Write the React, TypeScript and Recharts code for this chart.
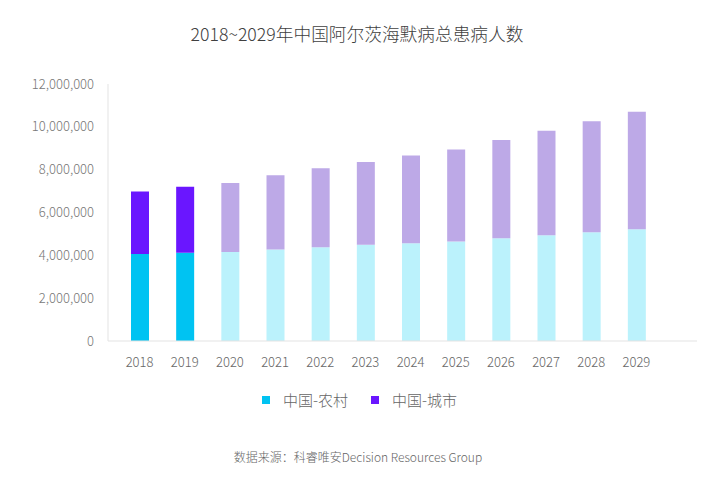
import { BarChart, Bar, XAxis, YAxis, Cell } from 'recharts';

const years = ['2018', '2019', '2020', '2021', '2022', '2023', '2024', '2025', '2026', '2027', '2028', '2029'];
const rural = [4060000, 4120000, 4150000, 4270000, 4380000, 4490000, 4570000, 4650000, 4800000, 4940000, 5080000, 5220000];
const urban = [2920000, 3080000, 3230000, 3470000, 3690000, 3870000, 4090000, 4290000, 4590000, 4880000, 5180000, 5480000];
const actualYears = ['2018', '2019'];
const yTicks = [0, 2000000, 4000000, 6000000, 8000000, 10000000, 12000000];
const seriesNames = ['中国-农村', '中国-城市'];

const data = years.map((year, i) => ({ year, rural: rural[i], urban: urban[i] }));

const FONT = '"Noto Sans CJK SC", "Noto Sans", sans-serif';
const ruralColor = '#00C3F2';
const ruralForecast = '#BBF2FC';
const urbanColor = '#6A16FF';
const urbanForecast = '#BDA9E7';

export default function App() {
  const isActual = (y: string) => actualYears.includes(y);

  return (
    <div
      style={{
        position: 'absolute',
        left: 0,
        top: 0,
        width: 701,
        height: 481,
        background: '#fff',
        fontFamily: FONT,
        fontWeight: 300,
      }}
    >
      <div
        style={{
          position: 'absolute',
          top: 20,
          left: 0,
          width: 714,
          textAlign: 'center',
          fontSize: 17.7,
          color: '#404040',
        }}
      >
        2018~2029年中国阿尔茨海默病总患病人数
      </div>
      <BarChart
        width={701}
        height={481}
        data={data}
        margin={{ top: 84, right: 4, left: 0, bottom: 110 }}
        style={{ position: 'absolute', left: 0, top: 0 }}
      >
        <XAxis
          dataKey="year"
          height={30}
          tickLine={false}
          tickSize={0}
          tickMargin={17}
          axisLine={{ stroke: '#e3e3e3' }}
          tick={{ fill: '#666', fontSize: 13, fontFamily: FONT }}
          padding={{ left: 9, right: 38 }}
        />
        <YAxis
          width={108}
          domain={[0, 12000000]}
          ticks={yTicks}
          tickLine={false}
          tickSize={0}
          tickMargin={14}
          axisLine={{ stroke: '#e3e3e3' }}
          tick={{ fill: '#777', fontSize: 13, fontFamily: FONT }}
          tickFormatter={(v: number) => v.toLocaleString('en-US')}
        />
        <Bar dataKey="rural" name={seriesNames[0]} stackId="a" fill={ruralColor} barSize={18} isAnimationActive={false}>
          {data.map((d) => (
            <Cell key={d.year} fill={isActual(d.year) ? ruralColor : ruralForecast} />
          ))}
        </Bar>
        <Bar dataKey="urban" name={seriesNames[1]} stackId="a" fill={urbanColor} barSize={18} isAnimationActive={false}>
          {data.map((d) => (
            <Cell key={d.year} fill={isActual(d.year) ? urbanColor : urbanForecast} />
          ))}
        </Bar>
      </BarChart>
      <div
        style={{
          position: 'absolute',
          top: 389,
          left: 262,
          display: 'flex',
          alignItems: 'center',
          fontSize: 15,
          color: '#666',
        }}
      >
        {seriesNames.map((name, i) => (
          <div key={name} style={{ display: 'flex', alignItems: 'center', marginRight: 23 }}>
            <span
              style={{
                display: 'inline-block',
                width: 8,
                height: 8,
                background: i === 0 ? ruralColor : urbanColor,
                marginRight: 13,
              }}
            />
            <span>{name}</span>
          </div>
        ))}
      </div>
      <div
        style={{
          position: 'absolute',
          top: 448,
          left: 0,
          width: 716,
          textAlign: 'center',
          fontSize: 12,
          color: '#666',
        }}
      >
        数据来源：科睿唯安Decision Resources Group
      </div>
    </div>
  );
}
